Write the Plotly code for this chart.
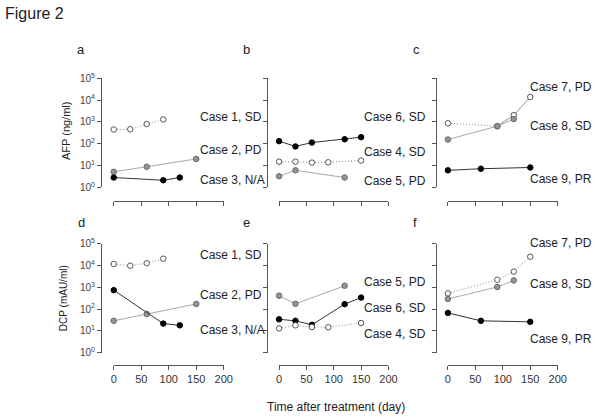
import plotly.graph_objects as go

W, H = 600, 418

# ---------------- data (days, values) ----------------
# AFP panels (ng/ml)
a_c1_days = [0, 30, 60, 90];         a_c1_val = [450, 460, 800, 1300]
a_c2_days = [0, 60, 150];            a_c2_val = [5.1, 8.7, 20]
a_c3_days = [0, 90, 120];            a_c3_val = [2.8, 2.1, 2.8]

b_c6_days = [0, 30, 60, 120, 150];   b_c6_val = [131, 75, 113, 160, 200]
b_c4_days = [0, 30, 60, 90, 150];    b_c4_val = [15, 15, 13.6, 14, 17]
b_c5_days = [0, 30, 120];            b_c5_val = [3.2, 6, 2.8]

c_c7_days = [0, 90, 120, 150];       c_c7_val = [870, 640, 2050, 14000]
c_c8_days = [0, 90, 120];            c_c8_val = [156, 640, 1360]
c_c9_days = [0, 60, 150];            c_c9_val = [6, 7.1, 8.1]

# DCP panels (mAU/ml)
d_c1_days = [0, 30, 60, 90];         d_c1_val = [12000, 10000, 13000, 21000]
d_c2_days = [0, 60, 150];            d_c2_val = [29, 60, 174]
d_c3_days = [0, 90, 120];            d_c3_val = [750, 21.6, 18]

e_c5_days = [0, 30, 120];            e_c5_val = [417, 176, 1200]
e_c6_days = [0, 30, 60, 120, 150];   e_c6_val = [34, 29, 19, 170, 340]
e_c4_days = [0, 30, 60, 90, 150];    e_c4_val = [13, 18, 15, 14.7, 23]

f_c7_days = [0, 90, 120, 150];       f_c7_val = [530, 2250, 5350, 26000]
f_c8_days = [0, 90, 120];            f_c8_val = [295, 1050, 2100]
f_c9_days = [0, 60, 150];            f_c9_val = [67, 29, 26]

x_ticks = [0, 50, 100, 150, 200]
y_ticks = [1, 10, 100, 1000, 10000, 100000]
y_tick_text = ["10<sup>0</sup>", "10<sup>1</sup>", "10<sup>2</sup>",
               "10<sup>3</sup>", "10<sup>4</sup>", "10<sup>5</sup>"]

panel_letters = ["a", "b", "c", "d", "e", "f"]
case_labels = [
    ["Case 1, SD", "Case 2, PD", "Case 3, N/A"],
    ["Case 6, SD", "Case 4, SD", "Case 5, PD"],
    ["Case 7, PD", "Case 8, SD", "Case 9, PR"],
    ["Case 1, SD", "Case 2, PD", "Case 3, N/A"],
    ["Case 5, PD", "Case 6, SD", "Case 4, SD"],
    ["Case 7, PD", "Case 8, SD", "Case 9, PR"],
]

# ---------------- layout helpers ----------------
def px(x):
    return x / W

def py(y):
    return 1 - y / H

FONT = "Liberation Sans, Arial, sans-serif"
AXC = "#555555"

# panel geometry in pixels
x0_cols = [113, 281.7, 454]      # pixel of day 0
x1_cols = [225.3, 393.3, 566]    # pixel of day 200
yline_cols = [100, 269.3, 441.7] # y axis line x
ytop_rows = [73.5, 244]          # 10^5
ybot_rows = [185.6, 355.8]       # 10^0
xline_rows = [199.3, 368.3]      # x axis line y

fig = go.Figure()

MS = 5.5
OPEN = dict(mode="lines+markers",
            line=dict(color="#8a8a8a", width=1, dash="1px,2px"),
            marker=dict(symbol="circle", size=MS, color="white",
                        line=dict(color="#555555", width=1)))
GRAY = dict(mode="lines+markers",
            line=dict(color="#a8a8a8", width=1),
            marker=dict(symbol="circle", size=MS, color="#959595",
                        line=dict(color="#666666", width=1)))
BLACK = dict(mode="lines+markers",
             line=dict(color="#333333", width=1),
             marker=dict(symbol="circle", size=MS, color="black",
                         line=dict(color="black", width=1)))

panels = [
    [(a_c1_days, a_c1_val, OPEN), (a_c2_days, a_c2_val, GRAY), (a_c3_days, a_c3_val, BLACK)],
    [(b_c6_days, b_c6_val, BLACK), (b_c4_days, b_c4_val, OPEN), (b_c5_days, b_c5_val, GRAY)],
    [(c_c7_days, c_c7_val, OPEN), (c_c8_days, c_c8_val, GRAY), (c_c9_days, c_c9_val, BLACK)],
    [(d_c1_days, d_c1_val, OPEN), (d_c2_days, d_c2_val, GRAY), (d_c3_days, d_c3_val, BLACK)],
    [(e_c5_days, e_c5_val, GRAY), (e_c6_days, e_c6_val, BLACK), (e_c4_days, e_c4_val, OPEN)],
    [(f_c7_days, f_c7_val, OPEN), (f_c8_days, f_c8_val, GRAY), (f_c9_days, f_c9_val, BLACK)],
]

label_x_cols = [199, 366, 536]
label_y = [
    [113, 147, 178],
    [113, 149, 179],
    [82, 123, 177],
    [255, 297, 333],
    [283, 310, 337],
    [243, 285, 342],
]
letter_pos = [(80, 44), (248, 44), (422, 44), (80, 222), (248, 222), (420, 222)]

layout = dict(
    width=W, height=H,
    margin=dict(l=0, r=0, t=0, b=0),
    paper_bgcolor="white", plot_bgcolor="rgba(0,0,0,0)",
    showlegend=False,
    font=dict(family=FONT, color="#222222"),
)
annotations = []

for i in range(6):
    row, col = divmod(i, 3)
    n = "" if i == 0 else str(i + 1)
    xa = "x" + n
    ya = "y" + n
    # panel c, case 7: the later segments are drawn as a thin solid line
    if i == 2:
        fig.add_trace(go.Scatter(x=c_c7_days[1:], y=c_c7_val[1:], xaxis=xa, yaxis=ya,
                                 mode="lines", line=dict(color="#a0a0a0", width=1),
                                 cliponaxis=False, hoverinfo="skip"))
    for days, vals, style in panels[i]:
        fig.add_trace(go.Scatter(x=days, y=vals, xaxis=xa, yaxis=ya,
                                 cliponaxis=False, hoverinfo="skip", **style))
    layout["xaxis" + n] = dict(
        domain=[px(x0_cols[col]), px(x1_cols[col])],
        range=[0, 200], anchor="free", position=py(xline_rows[row]),
        showline=True, linecolor=AXC, linewidth=1,
        ticks="outside", ticklen=4, tickcolor=AXC, tickwidth=1,
        tickvals=x_ticks, showticklabels=(row == 1),
        tickfont=dict(size=11, color="#333333", family=FONT),
        showgrid=False, zeroline=False, fixedrange=True,
    )
    layout["yaxis" + n] = dict(
        domain=[py(ybot_rows[row]), py(ytop_rows[row])],
        type="log", range=[0, 5], anchor="free", position=px(yline_cols[col]),
        showline=True, linecolor=AXC, linewidth=1,
        ticks="outside", ticklen=4, tickcolor=AXC, tickwidth=1,
        tickvals=y_ticks, ticktext=y_tick_text, showticklabels=(col == 0),
        tickfont=dict(size=10, color="#444444", family=FONT),
        showgrid=False, zeroline=False, fixedrange=True,
    )
    for k, txt in enumerate(case_labels[i]):
        annotations.append(dict(text=txt, x=px(label_x_cols[col]), y=py(label_y[i][k]),
                                xref="paper", yref="paper", xanchor="left", yanchor="middle",
                                showarrow=False, font=dict(size=12, color="#222222", family=FONT)))
    lx, ly = letter_pos[i]
    annotations.append(dict(text=panel_letters[i], x=px(lx), y=py(ly), xref="paper", yref="paper",
                            xanchor="center", yanchor="middle", showarrow=False,
                            font=dict(size=13, color="#222222", family=FONT)))

annotations.append(dict(text="Figure 2", x=px(0), y=py(7), xref="paper", yref="paper",
                        xanchor="left", yanchor="middle", showarrow=False,
                        font=dict(size=16, color="#222222", family=FONT)))
annotations.append(dict(text="AFP (ng/ml)", x=px(65), y=py(128), xref="paper", yref="paper",
                        xanchor="center", yanchor="middle", textangle=-90, showarrow=False,
                        font=dict(size=11, color="#222222", family=FONT)))
annotations.append(dict(text="DCP (mAU/ml)", x=px(62), y=py(300), xref="paper", yref="paper",
                        xanchor="center", yanchor="middle", textangle=-90, showarrow=False,
                        font=dict(size=10, color="#222222", family=FONT)))
annotations.append(dict(text="Time after treatment (day)", x=px(340), y=py(412), xref="paper", yref="paper",
                        xanchor="center", yanchor="middle", showarrow=False,
                        font=dict(size=12, color="#222222", family=FONT)))
layout["annotations"] = annotations
fig.update_layout(**layout)
fig.write_html("out.html", config={"displayModeBar": False},
               post_script="document.body.style.margin='0';document.body.style.overflow='hidden';")
